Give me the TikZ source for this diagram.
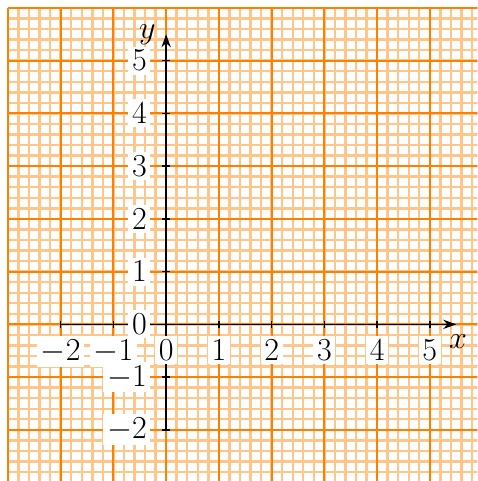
\documentclass[tikz,border=0pt]{standalone}
\usepackage{tikz}
\usetikzlibrary{arrows.meta}

\begin{document}
\begin{tikzpicture}[
    %Option for nice arrows
    >={Stealth[length=7pt,width=5pt]}, %
    font=\fontsize{17}{20}\selectfont,%
    axis/.style={line width=0.8pt,->},
    finegrid/.style={orange!45, line width=1.3pt},
    coarsegrid/.style={orange, line width=1pt},
    ticklabel/.style={fill=white, inner sep=2pt},
]
    % Paper
    \useasboundingbox (-3.15,-2.97) rectangle (5.9,6.15);
    \clip (-3.15,-2.97) rectangle (5.9,6.15);
    \draw[finegrid]   (-3,-3) grid[step=0.2] (6,6);
    \draw[coarsegrid] (-3,-3) grid[step=1]   (6,6);

    % Frame
    \coordinate (O)    at (0,0);
    \coordinate (xmin) at (-2,0);
    \coordinate (xmax) at (5.5,0);
    \coordinate (ymin) at (0,-2);
    \coordinate (ymax) at (0,5.5);
    \draw[axis] (xmin) -- (xmax) node (xlab) [below, xshift=1pt, yshift=-2pt] {$x$};
    \draw[axis] (ymin) -- (ymax) node (ylab) [left, xshift=-2pt] {$y$};

    % Ticks and numbers
    \foreach \x in {-2,...,5}{
        \draw[line width=0.9pt] (\x,0.07) -- (\x,-0.07);
        \node (xl\x) [ticklabel, anchor=north] at (\x,-0.22) {$\x$};
    }
    \foreach \y in {-2,...,5}{
        \draw[line width=0.9pt] (0.07,\y) -- (-0.07,\y);
        \node (yl\y) [ticklabel, anchor=east] at (-0.29,\y) {$\y$};
    }
\end{tikzpicture}
\end{document}
